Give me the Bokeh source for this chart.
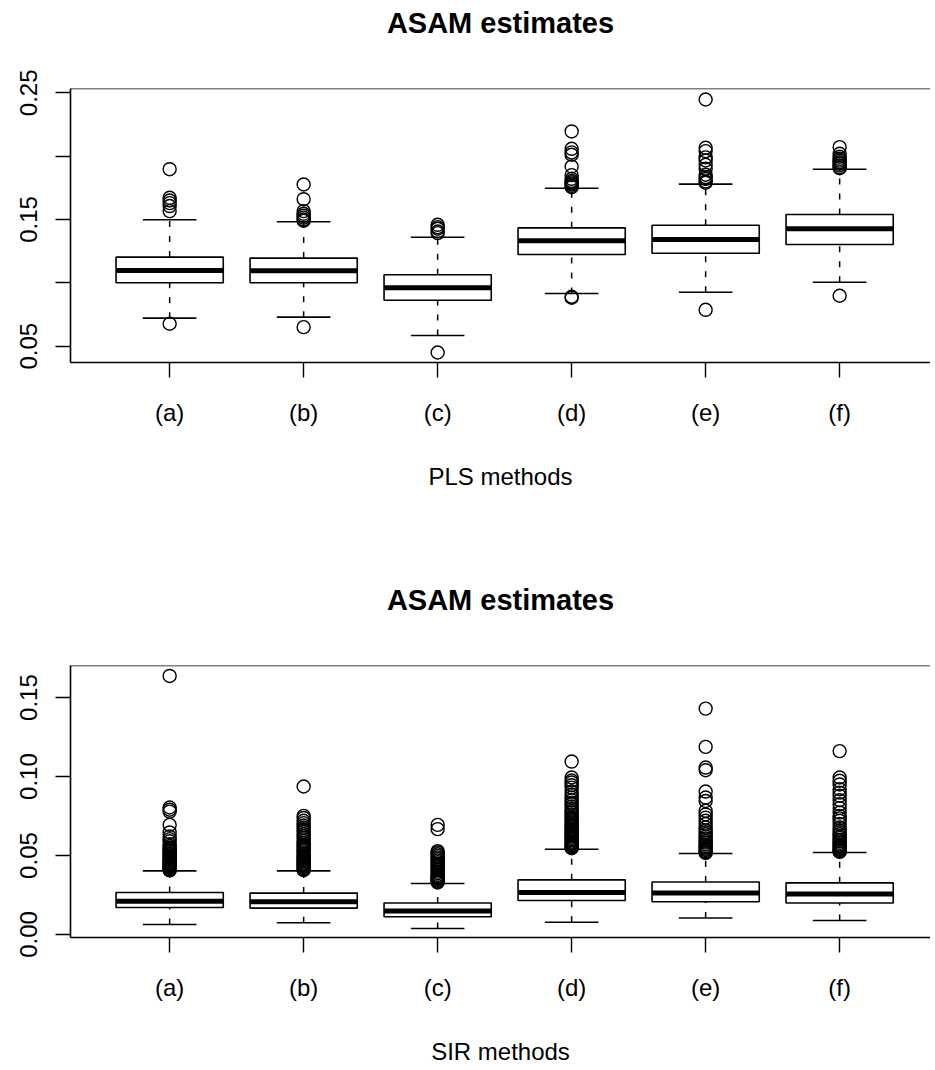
from bokeh.plotting import figure
from bokeh.models import ColumnDataSource, FixedTicker, Range1d, Span, Title
from bokeh.layouts import column
from bokeh.embed import file_html
from bokeh.resources import INLINE

categories = ["(a)", "(b)", "(c)", "(d)", "(e)", "(f)"]

# ---- PLS methods (top panel) ----
pls_lo = [0.0721, 0.0729, 0.0584, 0.0916, 0.0926, 0.1005]
pls_q1 = [0.1000, 0.1000, 0.0863, 0.1224, 0.1234, 0.1303]
pls_med = [0.1097, 0.1095, 0.0961, 0.1332, 0.1342, 0.1427]
pls_q3 = [0.1203, 0.1195, 0.1064, 0.1434, 0.1455, 0.1539]
pls_hi = [0.1498, 0.1482, 0.1360, 0.1747, 0.1779, 0.1897]
pls_out = [
    [0.1897, 0.1671, 0.1650, 0.1629, 0.1606, 0.1566, 0.0677],
    [0.1776, 0.1660, 0.1566, 0.1545, 0.1530, 0.1515, 0.1500, 0.1490, 0.0650],
    [0.1458, 0.1440, 0.1427, 0.1405, 0.1392, 0.0450],
    [0.2195, 0.2058, 0.2030, 0.2011, 0.1918, 0.1850, 0.1821, 0.1805, 0.1795,
     0.1785, 0.1776, 0.1765, 0.1755, 0.0882, 0.0890],
    [0.2447, 0.2066, 0.2040, 0.1990, 0.1966, 0.1932, 0.1900, 0.1853, 0.1835,
     0.1820, 0.1800, 0.1790, 0.0787],
    [0.2071, 0.2019, 0.1995, 0.1979, 0.1965, 0.1952, 0.1940, 0.1926, 0.1912,
     0.1905, 0.0898],
]
pls_ticks = [0.05, 0.10, 0.15, 0.20, 0.25]
pls_tick_labels = ["0.05", "", "0.15", "", "0.25"]

# ---- SIR methods (bottom panel) ----
sir_lo = [0.0063, 0.0074, 0.0038, 0.0078, 0.0104, 0.0089]
sir_q1 = [0.0171, 0.0167, 0.0112, 0.0215, 0.0207, 0.0199]
sir_med = [0.0211, 0.0208, 0.0148, 0.0266, 0.0262, 0.0256]
sir_q3 = [0.0266, 0.0262, 0.0199, 0.0346, 0.0332, 0.0327]
sir_hi = [0.0403, 0.0403, 0.0323, 0.0540, 0.0513, 0.0519]
sir_out = [
    [0.1637, 0.0804, 0.0790, 0.0778, 0.0694, 0.0646, 0.0620, 0.0604, 0.0590,
     0.0572, 0.0560, 0.0551, 0.0540, 0.0532, 0.0525, 0.0515, 0.0508, 0.0500,
     0.0492, 0.0485, 0.0478, 0.0470, 0.0463, 0.0456, 0.0450, 0.0444, 0.0438,
     0.0432, 0.0426, 0.0420, 0.0415, 0.0410, 0.0406],
    [0.0937, 0.0751, 0.0738, 0.0720, 0.0705, 0.0690, 0.0677, 0.0662, 0.0650,
     0.0635, 0.0622, 0.0610, 0.0593, 0.0580, 0.0570, 0.0560, 0.0550, 0.0540,
     0.0530, 0.0520, 0.0511, 0.0502, 0.0494, 0.0486, 0.0478, 0.0470, 0.0462,
     0.0455, 0.0448, 0.0441, 0.0434, 0.0427, 0.0420, 0.0414, 0.0408],
    [0.0694, 0.0667, 0.0528, 0.0519, 0.0508, 0.0498, 0.0488, 0.0478, 0.0468,
     0.0458, 0.0448, 0.0438, 0.0428, 0.0418, 0.0408, 0.0398, 0.0388, 0.0378,
     0.0370, 0.0362, 0.0355, 0.0348, 0.0341, 0.0335, 0.0329],
    [0.1095, 0.0994, 0.0975, 0.0962, 0.0945, 0.0930, 0.0905, 0.0885, 0.0867,
     0.0850, 0.0835, 0.0825, 0.0810, 0.0795, 0.0782, 0.0772, 0.0760, 0.0748,
     0.0738, 0.0728, 0.0718, 0.0708, 0.0698, 0.0688, 0.0678, 0.0668, 0.0660,
     0.0652, 0.0644, 0.0636, 0.0628, 0.0620, 0.0612, 0.0604, 0.0596, 0.0588,
     0.0580, 0.0573, 0.0566, 0.0559, 0.0552, 0.0546],
    [0.1430, 0.1188, 0.1057, 0.1040, 0.0905, 0.0867, 0.0845, 0.0783, 0.0760,
     0.0740, 0.0720, 0.0700, 0.0677, 0.0660, 0.0648, 0.0635, 0.0620, 0.0608,
     0.0593, 0.0582, 0.0570, 0.0560, 0.0550, 0.0542, 0.0535, 0.0528, 0.0521,
     0.0516],
    [0.1161, 0.0994, 0.0973, 0.0950, 0.0920, 0.0898, 0.0878, 0.0850, 0.0825,
     0.0800, 0.0772, 0.0750, 0.0735, 0.0720, 0.0700, 0.0677, 0.0660, 0.0648,
     0.0635, 0.0622, 0.0612, 0.0600, 0.0590, 0.0580, 0.0570, 0.0562, 0.0555,
     0.0548, 0.0541, 0.0535, 0.0528, 0.0523],
]
sir_ticks = [0.00, 0.05, 0.10, 0.15]
sir_tick_labels = ["0.00", "0.05", "0.10", "0.15"]

FONT = "Liberation Sans"


def make_panel(title, xlabel, lo, q1, med, q3, hi, outs, yticks, ylabels,
               yr, height, b_top, b_bottom):
    xs = list(range(1, len(categories) + 1))
    box = ColumnDataSource(dict(
        x=xs, xl=[x - 0.4 for x in xs], xr=[x + 0.4 for x in xs],
        cl=[x - 0.2 for x in xs], cr=[x + 0.2 for x in xs],
        lo=lo, q1=q1, med=med, q3=q3, hi=hi))
    ox, oy = [], []
    for x, vals in zip(xs, outs):
        for v in vals:
            ox.append(x)
            oy.append(v)
    out = ColumnDataSource(dict(x=ox, y=oy))

    p = figure(width=930, height=height, output_backend="svg",
               toolbar_location=None,
               x_range=Range1d(0.26, 6.678), y_range=Range1d(*yr),
               min_border_left=70, min_border_right=0,
               min_border_top=b_top, min_border_bottom=b_bottom)
    p.outline_line_color = None
    p.background_fill_color = "white"
    p.border_fill_color = "white"
    p.xgrid.visible = False
    p.ygrid.visible = False

    p.title.text = title
    p.title.align = "center"
    p.title.text_font = FONT
    p.title.text_font_size = "29px"
    p.title.text_font_style = "bold"
    p.title.text_color = "black"
    p.title.standoff = 8
    # empty spacer panel between the title and the frame
    p.add_layout(Title(text=" ", text_font_size="10px", standoff=33), "above")

    # whiskers
    p.segment(x0="x", x1="x", y0="q3", y1="hi", source=box,
              line_color="black", line_width=1.5, line_dash="6 9")
    p.segment(x0="x", x1="x", y0="lo", y1="q1", source=box,
              line_color="black", line_width=1.5, line_dash="6 9")
    # caps
    p.segment(x0="cl", x1="cr", y0="hi", y1="hi", source=box,
              line_color="black", line_width=1.6)
    p.segment(x0="cl", x1="cr", y0="lo", y1="lo", source=box,
              line_color="black", line_width=1.6)
    # boxes
    p.quad(left="xl", right="xr", bottom="q1", top="q3", source=box,
           fill_color="white", line_color="black", line_width=1.6)
    # medians
    p.segment(x0="xl", x1="xr", y0="med", y1="med", source=box,
              line_color="black", line_width=5, line_cap="butt")
    # outliers
    p.scatter(x="x", y="y", source=out, marker="circle", size=13,
              fill_color=None, line_color="black", line_width=1.4)

    # top frame line
    p.add_layout(Span(location=yr[1], dimension="width",
                      line_color="black", line_width=1.6))

    for ax in (p.xaxis[0], p.yaxis[0]):
        ax.axis_line_width = 1.6
        ax.axis_line_color = "black"
        ax.major_tick_line_width = 1.4
        ax.major_tick_line_color = "black"
        ax.major_tick_in = 0
        ax.major_tick_out = 15
        ax.minor_tick_line_color = None
        ax.major_label_text_font = FONT
        ax.major_label_text_font_size = "24px"
        ax.major_label_text_color = "black"

    xa = p.xaxis[0]
    xa.ticker = FixedTicker(ticks=xs)
    xa.major_label_overrides = {x: c for x, c in zip(xs, categories)}
    xa.major_label_standoff = 21
    xa.axis_label = xlabel
    xa.axis_label_text_font = FONT
    xa.axis_label_text_font_size = "24px"
    xa.axis_label_text_font_style = "normal"
    xa.axis_label_text_color = "black"
    xa.axis_label_standoff = 34

    ya = p.yaxis[0]
    ya.ticker = FixedTicker(ticks=yticks)
    ya.major_label_overrides = {t: l for t, l in zip(yticks, ylabels)}
    ya.major_label_orientation = "vertical"
    ya.major_label_standoff = 18
    return p


top = make_panel("ASAM estimates", "PLS methods", pls_lo, pls_q1, pls_med,
                 pls_q3, pls_hi, pls_out, pls_ticks, pls_tick_labels,
                 (0.0371, 0.2534), 500, 88, 138)
bottom = make_panel("ASAM estimates", "SIR methods", sir_lo, sir_q1, sir_med,
                    sir_q3, sir_hi, sir_out, sir_ticks, sir_tick_labels,
                    (-0.0019, 0.1703), 568, 165, 131)

layout = column(top, bottom, spacing=0)
open("out.html", "w").write(file_html(layout, INLINE))
